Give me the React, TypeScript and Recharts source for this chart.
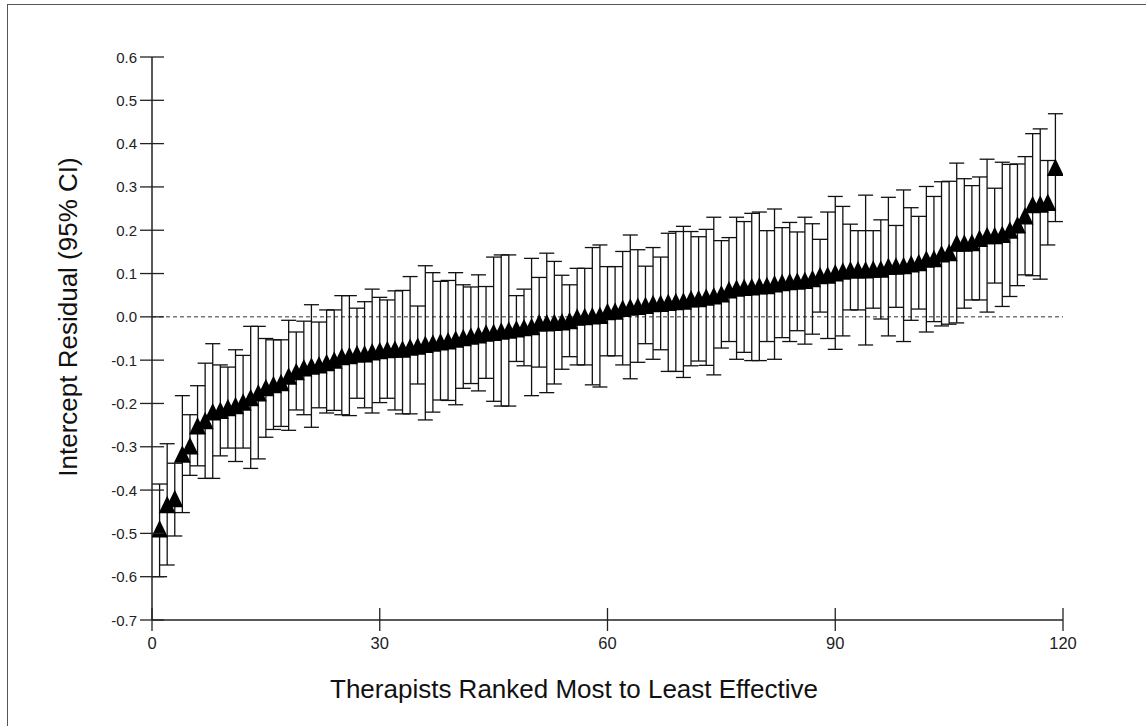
import React from 'react';
import { ScatterChart, Scatter, XAxis, YAxis, ErrorBar, ReferenceLine } from 'recharts';

const ranks = [
  1, 2, 3, 4, 5, 6, 7, 8, 9, 10, 11, 12, 13, 14, 15, 16, 17, 18, 19, 20,
  21, 22, 23, 24, 25, 26, 27, 28, 29, 30, 31, 32, 33, 34, 35, 36, 37, 38, 39, 40,
  41, 42, 43, 44, 45, 46, 47, 48, 49, 50, 51, 52, 53, 54, 55, 56, 57, 58, 59, 60,
  61, 62, 63, 64, 65, 66, 67, 68, 69, 70, 71, 72, 73, 74, 75, 76, 77, 78, 79, 80,
  81, 82, 83, 84, 85, 86, 87, 88, 89, 90, 91, 92, 93, 94, 95, 96, 97, 98, 99, 100,
  101, 102, 103, 104, 105, 106, 107, 108, 109, 110, 111, 112, 113, 114, 115, 116, 117, 118, 119,
];

const residual = [
  -0.490, -0.434, -0.420, -0.317, -0.298, -0.252, -0.240, -0.220, -0.216, -0.210,
  -0.205, -0.197, -0.187, -0.176, -0.164, -0.157, -0.152, -0.137, -0.127, -0.118,
  -0.114, -0.111, -0.106, -0.100, -0.092, -0.090, -0.086, -0.086, -0.081, -0.078,
  -0.076, -0.075, -0.075, -0.070, -0.068, -0.064, -0.061, -0.058, -0.056, -0.052,
  -0.048, -0.045, -0.042, -0.038, -0.036, -0.033, -0.031, -0.028, -0.025, -0.023,
  -0.014, -0.014, -0.013, -0.012, -0.009, -0.001, 0.000, 0.002, 0.003, 0.012,
  0.013, 0.019, 0.022, 0.024, 0.026, 0.030, 0.031, 0.033, 0.035, 0.036,
  0.041, 0.042, 0.045, 0.048, 0.053, 0.062, 0.066, 0.068, 0.069, 0.071,
  0.072, 0.076, 0.079, 0.081, 0.082, 0.084, 0.088, 0.095, 0.096, 0.101,
  0.105, 0.108, 0.108, 0.108, 0.110, 0.110, 0.116, 0.117, 0.118, 0.122,
  0.125, 0.133, 0.134, 0.145, 0.148, 0.170, 0.170, 0.171, 0.181, 0.187,
  0.187, 0.190, 0.200, 0.212, 0.233, 0.259, 0.260, 0.264, 0.345,
];

const lower = [
  -0.600, -0.573, -0.506, -0.452, -0.366, -0.344, -0.373, -0.373, -0.321, -0.303,
  -0.334, -0.303, -0.350, -0.328, -0.278, -0.260, -0.253, -0.262, -0.215, -0.226,
  -0.255, -0.210, -0.222, -0.216, -0.226, -0.228, -0.188, -0.210, -0.222, -0.198,
  -0.188, -0.215, -0.224, -0.224, -0.155, -0.238, -0.220, -0.192, -0.193, -0.203,
  -0.165, -0.154, -0.171, -0.142, -0.195, -0.206, -0.206, -0.103, -0.113, -0.182,
  -0.116, -0.175, -0.155, -0.121, -0.092, -0.111, -0.111, -0.157, -0.162, -0.090,
  -0.090, -0.111, -0.143, -0.105, -0.062, -0.098, -0.076, -0.126, -0.126, -0.140,
  -0.113, -0.102, -0.112, -0.134, -0.072, -0.057, -0.098, -0.082, -0.101, -0.101,
  -0.057, -0.098, -0.048, -0.057, -0.032, -0.063, -0.040, 0.011, -0.050, -0.075,
  -0.044, 0.016, 0.016, -0.065, 0.020, -0.005, -0.044, 0.022, -0.057, -0.008,
  0.018, -0.035, -0.011, -0.021, -0.017, -0.014, 0.020, 0.039, 0.039, 0.011,
  0.078, 0.024, 0.047, 0.072, 0.097, 0.095, 0.087, 0.166, 0.220,
];

const upper = [
  -0.386, -0.293, -0.338, -0.182, -0.226, -0.159, -0.107, -0.062, -0.111, -0.116,
  -0.076, -0.089, -0.022, -0.022, -0.050, -0.053, -0.053, -0.008, -0.035, -0.010,
  0.028, -0.012, 0.016, 0.016, 0.049, 0.049, 0.020, 0.035, 0.064, 0.045,
  0.039, 0.060, 0.061, 0.093, 0.025, 0.118, 0.102, 0.082, 0.084, 0.102,
  0.074, 0.069, 0.097, 0.070, 0.138, 0.143, 0.143, 0.049, 0.064, 0.135,
  0.091, 0.147, 0.128, 0.096, 0.074, 0.112, 0.112, 0.160, 0.166, 0.116,
  0.116, 0.151, 0.189, 0.155, 0.117, 0.160, 0.138, 0.193, 0.197, 0.209,
  0.197, 0.185, 0.202, 0.230, 0.176, 0.183, 0.230, 0.220, 0.239, 0.242,
  0.199, 0.249, 0.206, 0.218, 0.196, 0.230, 0.215, 0.179, 0.242, 0.278,
  0.255, 0.214, 0.199, 0.281, 0.199, 0.224, 0.276, 0.211, 0.293, 0.252,
  0.232, 0.301, 0.278, 0.312, 0.313, 0.355, 0.319, 0.303, 0.323, 0.364,
  0.297, 0.357, 0.352, 0.353, 0.370, 0.423, 0.434, 0.361, 0.469,
];

const xTicks = [0, 30, 60, 90, 120];
const xTickLabels = ['0', '30', '60', '90', '120'];
const yTicks = [-0.7, -0.6, -0.5, -0.4, -0.3, -0.2, -0.1, 0, 0.1, 0.2, 0.3, 0.4, 0.5, 0.6];
const yTickLabels = ['-0.7', '-0.6', '-0.5', '-0.4', '-0.3', '-0.2', '-0.1', '0.0', '0.1', '0.2', '0.3', '0.4', '0.5', '0.6'];

const xTitle = 'Therapists Ranked Most to Least Effective';
const yTitle = 'Intercept Residual (95% CI)';

const data = ranks.map((r, i) => ({
  x: r,
  y: residual[i],
  err: [residual[i] - lower[i], upper[i] - residual[i]],
}));

const FONT = '"Liberation Sans", Arial, Helvetica, sans-serif';
const Y_TICK_SIZE = 12;
const Y_TICK_MARGIN = 3;
const X_TICK_SIZE = 12;
const X_TICK_MARGIN = 4;

const YTick = (props: any) => {
  const { x, y, payload } = props;
  const ax = x + Y_TICK_SIZE + Y_TICK_MARGIN;
  const idx = yTicks.findIndex((t) => Math.abs(t - payload.value) < 1e-9);
  const label = idx >= 0 ? yTickLabels[idx] : String(payload.value);
  return (
    <g>
      <line x1={ax - 12} x2={ax + 12} y1={y} y2={y} stroke="#222" strokeWidth={1.3} />
      <text x={x} y={y} textAnchor="end" dominantBaseline="central" fontSize={15} fill="#222" fontFamily={FONT}>
        {label}
      </text>
    </g>
  );
};

const XTick = (props: any) => {
  const { x, y, payload } = props;
  const ay = y - X_TICK_SIZE - X_TICK_MARGIN;
  const idx = xTicks.findIndex((t) => t === payload.value);
  const label = idx >= 0 ? xTickLabels[idx] : String(payload.value);
  return (
    <g>
      <line x1={x} x2={x} y1={ay - 12} y2={ay + 11} stroke="#222" strokeWidth={1.3} />
      <text x={x} y={y + 7} textAnchor="middle" dominantBaseline="central" fontSize={16.5} fill="#222" fontFamily={FONT}>
        {label}
      </text>
    </g>
  );
};

const Triangle = (props: any) => {
  const { cx, cy } = props;
  if (cx == null || cy == null) return null;
  return (
    <polygon
      points={`${cx},${cy - 9} ${cx - 8.5},${cy + 8.5} ${cx + 8.5},${cy + 8.5}`}
      fill="#000"
    />
  );
};

export default function App() {
  return (
    <div style={{ position: 'absolute', left: 0, top: 0, width: 1146, height: 726, overflow: 'hidden', background: '#fff' }}>
      <div style={{ position: 'absolute', left: 7, top: 4, width: 1170, height: 760, border: '1px solid #555' }} />
      <div style={{ position: 'absolute', left: 0, top: 0 }}>
        <ScatterChart width={1146} height={726} margin={{ top: 57, right: 83, bottom: 66, left: 72 }}>
          <XAxis
            type="number"
            dataKey="x"
            domain={[0, 120]}
            ticks={xTicks}
            allowDataOverflow
            height={40}
            tickSize={X_TICK_SIZE}
            tickMargin={X_TICK_MARGIN}
            tickLine={false}
            tick={<XTick />}
            axisLine={{ stroke: '#222', strokeWidth: 1.5 }}
            interval={0}
          />
          <YAxis
            type="number"
            dataKey="y"
            domain={[-0.7, 0.6]}
            ticks={yTicks}
            allowDataOverflow
            width={80}
            tickSize={Y_TICK_SIZE}
            tickMargin={Y_TICK_MARGIN}
            tickLine={false}
            tick={<YTick />}
            axisLine={{ stroke: '#222', strokeWidth: 1.5 }}
            interval={0}
          />
          <ReferenceLine y={0} stroke="#333" strokeWidth={1} strokeDasharray="4 3" />
          <Scatter data={data} shape={<Triangle />} isAnimationActive={false}>
            <ErrorBar dataKey="err" direction="y" width={7.5} stroke="#111" strokeWidth={1.3} isAnimationActive={false} />
          </Scatter>
        </ScatterChart>
      </div>
      <svg width={1146} height={726} style={{ position: 'absolute', left: 0, top: 0, pointerEvents: 'none' }}>
        <text x={574} y={689} textAnchor="middle" dominantBaseline="central" fontSize={26} fill="#111" fontFamily={FONT}>
          {xTitle}
        </text>
        <text
          x={0}
          y={0}
          transform="translate(68 317) rotate(-90)"
          textAnchor="middle"
          dominantBaseline="central"
          fontSize={26}
          fill="#111"
          fontFamily={FONT}
        >
          {yTitle}
        </text>
      </svg>
    </div>
  );
}
